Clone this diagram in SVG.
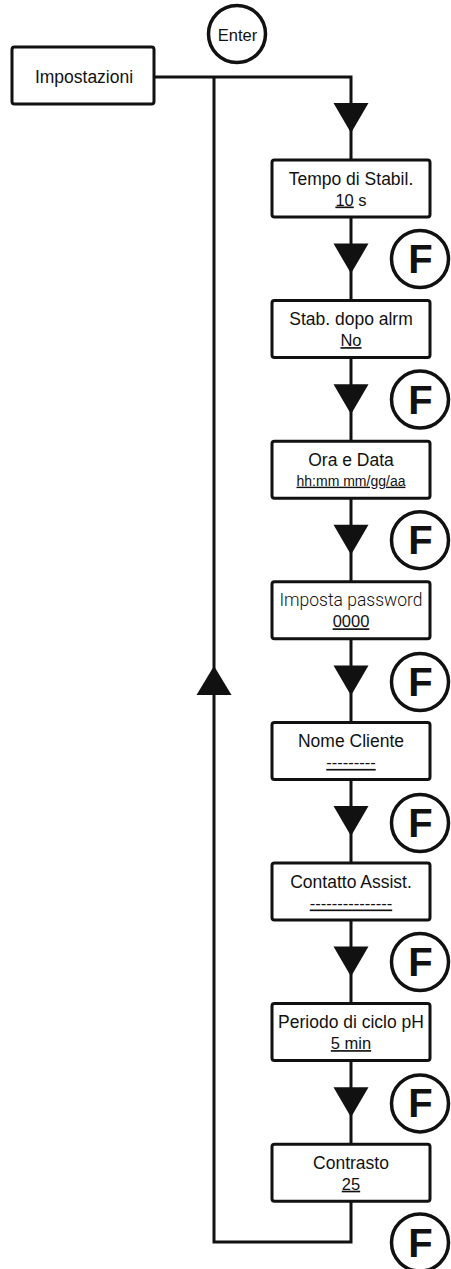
<svg xmlns="http://www.w3.org/2000/svg" width="451" height="1269" viewBox="0 0 451 1269">
  <style>
    .box { fill: #fff; stroke: #111; stroke-width: 3; }
    .wire { fill: none; stroke: #111; stroke-width: 3; stroke-linejoin: miter; }
    .head { fill: #111; stroke: none; }
    .ring { fill: #fff; stroke: #111; stroke-width: 3.5; }
    .lbl { font-family: "Liberation Sans", Arial, sans-serif; font-size: 17.5px; fill: #111; text-anchor: middle; }
    .val { font-family: "Liberation Sans", Arial, sans-serif; font-size: 16.5px; fill: #111; text-anchor: middle; }
    .small { font-size: 14px; }
    .thin { font-family: Roboto, "Liberation Sans", sans-serif; font-weight: 300; }
    .u { text-decoration: underline; }
    .key { font-family: "Liberation Sans", Arial, sans-serif; font-weight: bold; font-size: 40px; fill: #111; text-anchor: middle; }
    .enter { font-family: "Liberation Sans", Arial, sans-serif; font-size: 16.5px; fill: #111; text-anchor: middle; }
  </style>
  <defs>
    <path id="down" class="head" d="M -17.5 0 L 17.5 0 L 0 30 Z"/>
    <path id="up" class="head" d="M -17.5 0 L 17.5 0 L 0 -29 Z"/>
    <g id="fkey">
      <circle class="ring" cx="0" cy="0" r="28.5"/>
      <text class="key" x="0.5" y="14">F</text>
    </g>
  </defs>
  <rect width="451" height="1269" fill="#fff"/>

  <!-- connectors -->
  <g id="connectors">
    <path class="wire" d="M 154 77 H 351 V 160"/>
    <path class="wire" d="M 214 77 V 1242 H 351 V 1201"/>
    <line class="wire" x1="351" y1="217" x2="351" y2="300.6"/>
    <line class="wire" x1="351" y1="357.6" x2="351" y2="441.2"/>
    <line class="wire" x1="351" y1="498.2" x2="351" y2="581.8"/>
    <line class="wire" x1="351" y1="638.8" x2="351" y2="722.4"/>
    <line class="wire" x1="351" y1="779.4" x2="351" y2="863"/>
    <line class="wire" x1="351" y1="920" x2="351" y2="1003.6"/>
    <line class="wire" x1="351" y1="1060.6" x2="351" y2="1144.2"/>
    <use href="#down" x="351" y="103"/>
    <use href="#down" x="351" y="243.6"/>
    <use href="#down" x="351" y="384.2"/>
    <use href="#down" x="351" y="524.8"/>
    <use href="#down" x="351" y="665.4"/>
    <use href="#down" x="351" y="806"/>
    <use href="#down" x="351" y="946.6"/>
    <use href="#down" x="351" y="1087.2"/>
    <use href="#up" x="214" y="695"/>
  </g>

  <!-- Enter key -->
  <g id="enter-key">
    <circle class="ring" cx="237" cy="34" r="28.5"/>
    <text class="enter" x="237.5" y="40.5">Enter</text>
  </g>

  <!-- F keys -->
  <g id="f-keys">
    <use href="#fkey" x="420" y="259"/>
    <use href="#fkey" x="420" y="399.6"/>
    <use href="#fkey" x="420" y="540.2"/>
    <use href="#fkey" x="420" y="682"/>
    <use href="#fkey" x="420" y="823"/>
    <use href="#fkey" x="420" y="962"/>
    <use href="#fkey" x="420" y="1103.4"/>
    <use href="#fkey" x="420" y="1242.5"/>
  </g>

  <!-- menu nodes -->
  <g id="impostazioni">
    <rect class="box" x="12" y="47" width="142" height="57" rx="2.5"/>
    <text class="lbl" x="84" y="83">Impostazioni</text>
  </g>

  <g id="tempo-stabil">
    <rect class="box" x="272" y="160" width="158" height="57" rx="2.5"/>
    <text class="lbl" x="351" y="184.5">Tempo di Stabil.</text>
    <text class="val" x="351" y="205.5"><tspan class="u">10</tspan> s</text>
  </g>

  <g id="stab-dopo-alrm">
    <rect class="box" x="272" y="300.6" width="158" height="57" rx="2.5"/>
    <text class="lbl" x="351" y="325.1">Stab. dopo alrm</text>
    <text class="val u" x="351" y="346.1">No</text>
  </g>

  <g id="ora-data">
    <rect class="box" x="272" y="441.2" width="158" height="57" rx="2.5"/>
    <text class="lbl" x="351" y="465.7">Ora e Data</text>
    <text class="val small u" x="351" y="485.7">hh:mm mm/gg/aa</text>
  </g>

  <g id="imposta-password">
    <rect class="box" x="272" y="581.8" width="158" height="57" rx="2.5"/>
    <text class="lbl thin" x="351" y="606.3">Imposta password</text>
    <text class="val u" x="351" y="627.3">0000</text>
  </g>

  <g id="nome-cliente">
    <rect class="box" x="272" y="722.4" width="158" height="57" rx="2.5"/>
    <text class="lbl" x="351" y="746.9">Nome Cliente</text>
    <text class="val u" x="351" y="767.9">---------</text>
  </g>

  <g id="contatto-assist">
    <rect class="box" x="272" y="863" width="158" height="57" rx="2.5"/>
    <text class="lbl" x="351" y="887.5">Contatto Assist.</text>
    <text class="val u" x="351" y="908.5">---------------</text>
  </g>

  <g id="periodo-ciclo">
    <rect class="box" x="272" y="1003.6" width="158" height="57" rx="2.5"/>
    <text class="lbl" x="351" y="1028.1">Periodo di ciclo pH</text>
    <text class="val u" x="351" y="1049.1">5 min</text>
  </g>

  <g id="contrasto">
    <rect class="box" x="272" y="1144.2" width="158" height="57" rx="2.5"/>
    <text class="lbl" x="351" y="1168.7">Contrasto</text>
    <text class="val u" x="351" y="1189.7">25</text>
  </g>
</svg>
